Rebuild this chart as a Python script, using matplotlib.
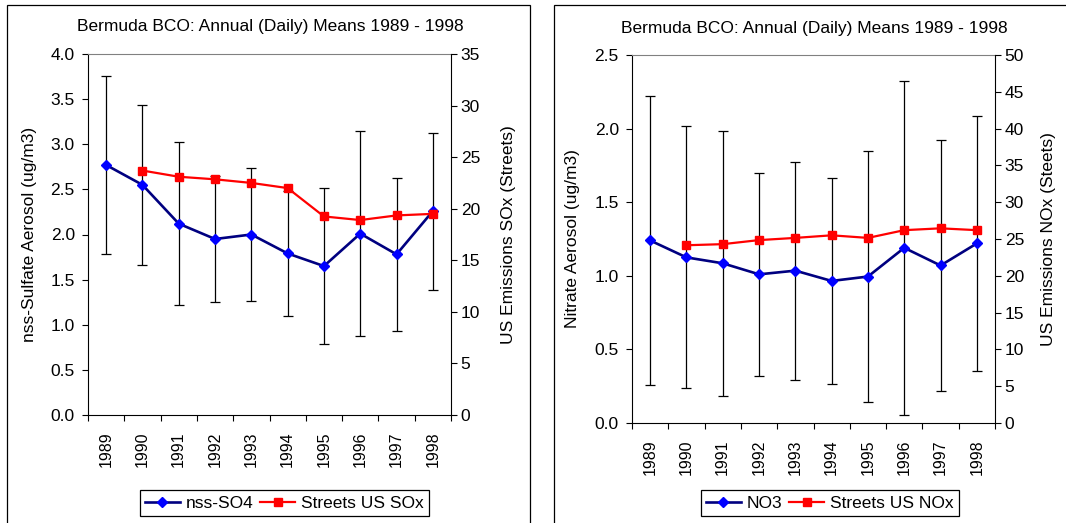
import numpy as np
import matplotlib
matplotlib.use("Agg")
import matplotlib.pyplot as plt
from matplotlib.patches import Rectangle

plt.rcParams['font.family'] = ['Liberation Sans', 'DejaVu Sans']

years = ['1989', '1990', '1991', '1992', '1993', '1994', '1995', '1996', '1997', '1998']

# Left chart: sulfate
so4 = [2.77, 2.55, 2.12, 1.95, 2.00, 1.79, 1.65, 2.01, 1.78, 2.26]
so4_err = [0.99, 0.89, 0.90, 0.70, 0.74, 0.69, 0.86, 1.14, 0.85, 0.87]
sox = [np.nan, 23.7, 23.1, 22.85, 22.5, 22.0, 19.25, 18.9, 19.35, 19.5]

# Right chart: nitrate
no3 = [1.24, 1.125, 1.085, 1.01, 1.035, 0.965, 0.995, 1.19, 1.07, 1.22]
no3_err = [0.98, 0.89, 0.90, 0.69, 0.74, 0.70, 0.855, 1.135, 0.85, 0.865]
nox = [np.nan, 24.15, 24.3, 24.85, 25.15, 25.5, 25.15, 26.2, 26.45, 26.2]

title = 'Bermuda BCO: Annual (Daily) Means 1989 - 1998'

W, H = 1066, 523
fig = plt.figure(figsize=(W / 100, H / 100), dpi=100)
FS = 12.5
FSX = 11.5


def fx(px):
    return px / W


def fy(py):
    return 1 - py / H


def panel(x0, x1, y0, y1, vals, errs, sec, ymax, ystep, y2max, y2step,
          lab1, lab2, leg1, leg2, title_xy, lab1_x, lab2_x, leg_xy):
    ax = fig.add_axes([fx(x0), fy(y1), fx(x1 - x0), (y1 - y0) / H])
    ax2 = ax.twinx()
    x = np.arange(len(years))
    ax.errorbar(x, vals, yerr=errs, fmt='none', ecolor='black', elinewidth=0.9,
                capsize=3.6, capthick=0.9, zorder=2)
    l1, = ax.plot(x, vals, color='#000080', lw=1.9, marker='D', ms=5.2,
                  mfc='#0000FF', mec='#0000FF', zorder=3, label=leg1)
    l2, = ax2.plot(x, sec, color='#FF0000', lw=1.6, marker='s', ms=6,
                   mfc='#FF0000', mec='#FF0000', zorder=3, label=leg2)
    ax.set_xlim(-0.5, len(years) - 0.5)
    ax.set_ylim(0, ymax)
    ax2.set_ylim(0, y2max)
    ax.set_yticks(np.arange(0, ymax + 1e-9, ystep))
    ax.set_yticklabels(['%.1f' % v for v in np.arange(0, ymax + 1e-9, ystep)])
    ax2.set_yticks(np.arange(0, y2max + 1e-9, y2step))
    ax2.set_yticklabels(['%d' % v for v in np.arange(0, y2max + 1e-9, y2step)])
    # x ticks at category boundaries, labels at centers
    ax.set_xticks(np.arange(-0.5, len(years), 1.0))
    ax.set_xticklabels([])
    ax.set_xticks(x, minor=True)
    ax.set_xticklabels(years, minor=True, rotation=90, fontsize=FSX)
    ax.tick_params(axis='x', which='major', direction='out', length=4.5, width=0.8)
    ax.tick_params(axis='x', which='minor', length=0, pad=12)
    ax.tick_params(axis='y', direction='out', length=4.5, width=0.8, pad=5.0,
                   labelsize=FS)
    ax2.tick_params(axis='y', direction='out', length=4.5, width=0.8, pad=2.5,
                    labelsize=FS)
    for a in (ax, ax2):
        for s in a.spines.values():
            s.set_linewidth(0.8)
    ax.spines['right'].set_visible(False)
    ax.spines['top'].set_color('#808080')
    ax2.spines['left'].set_visible(False)
    ax2.spines['bottom'].set_visible(False)
    ax2.spines['top'].set_visible(False)
    ax.set_zorder(1)
    ax2.set_zorder(2)
    ax2.patch.set_visible(False)
    fig.text(fx(title_xy[0]), fy(title_xy[1]), title, ha='center', va='center',
             fontsize=FS)
    cy = fy((y0 + y1) / 2)
    fig.text(fx(lab1_x), cy, lab1, rotation=90, ha='center', va='center', fontsize=FS)
    fig.text(fx(lab2_x), cy, lab2, rotation=90, ha='center', va='center', fontsize=FS)
    leg = fig.legend([l1, l2], [leg1, leg2], loc='center',
                     bbox_to_anchor=(fx(leg_xy[0]), fy(leg_xy[1])), ncol=2,
                     fontsize=FS, frameon=True, fancybox=False, framealpha=1,
                     edgecolor='black', handlelength=2.0, handletextpad=0.35,
                     columnspacing=0.4, borderpad=0.3, borderaxespad=0)
    leg.get_frame().set_linewidth(0.9)
    return ax, ax2


panel(88, 451, 54, 415, so4, so4_err, sox, 4.0, 0.5, 35, 5,
      'nss-Sulfate Aerosol (ug/m3)', 'US Emissions SOx (Streets)',
      'nss-SO4', 'Streets US SOx', (270, 27), 29.5, 509, (284.5, 503))
panel(632, 995, 55, 423, no3, no3_err, nox, 2.5, 0.5, 50, 5,
      'Nitrate Aerosol (ug/m3)', 'US Emissions NOx (Steets)',
      'NO3', 'Streets US NOx', (814, 28), 572, 1048, (830, 503))

# outer chart frames
fig.patches.append(Rectangle((fx(7), fy(530)), fx(530 - 7), (530 - 5) / H,
                             transform=fig.transFigure, fill=False,
                             edgecolor='black', lw=0.9))
fig.patches.append(Rectangle((fx(554), fy(530)), fx(1080 - 554), (530 - 5) / H,
                             transform=fig.transFigure, fill=False,
                             edgecolor='black', lw=0.9))

fig.savefig('out.png', dpi=100)
